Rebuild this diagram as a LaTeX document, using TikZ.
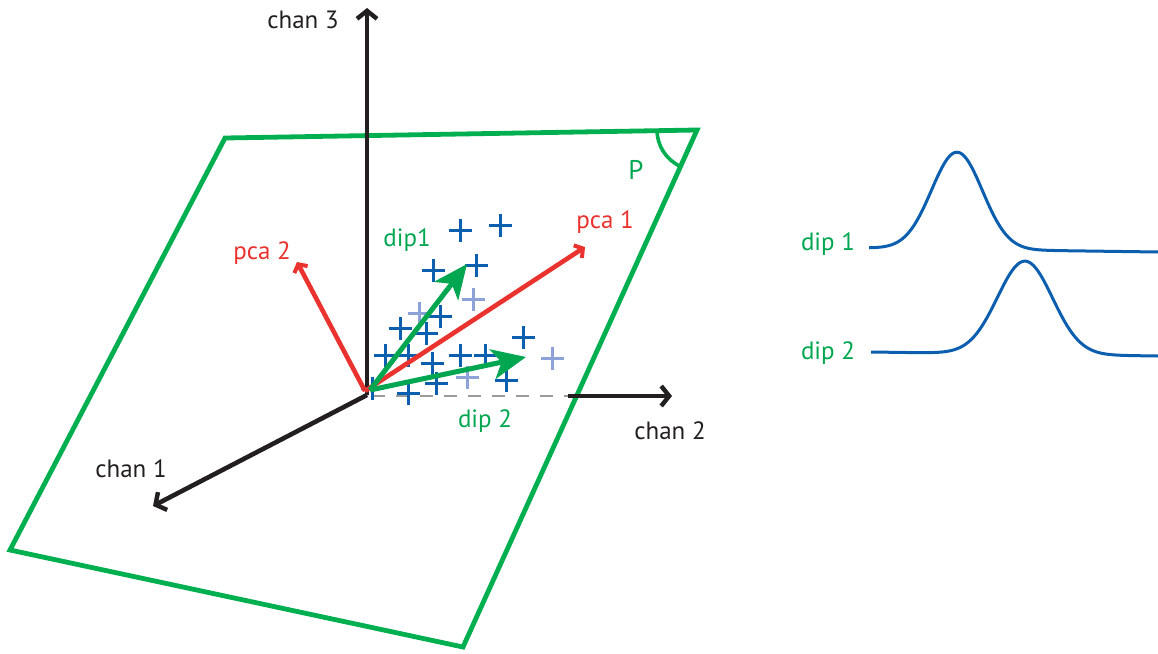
\documentclass[tikz,border=0pt]{standalone}
\usepackage{fontspec}
\setmainfont{PT Sans}
\usetikzlibrary{arrows.meta}
\definecolor{planegreen}{RGB}{0,176,80}
\definecolor{arrgreen}{RGB}{0,166,80}
\definecolor{pcared}{RGB}{234,50,46}
\definecolor{dblue}{RGB}{12,94,174}
\definecolor{lblue}{RGB}{140,162,216}
\definecolor{axblack}{RGB}{35,31,32}
\definecolor{dgray}{RGB}{155,155,155}
\tikzset{
  axis/.style={draw=axblack,line width=4.6pt,-{Straight Barb[length=8pt,width=20pt,line width=4.4pt]}},
  pcaarr/.style={draw=pcared,line width=4.6pt,-{Straight Barb[length=6pt,width=15pt,line width=4pt]}},
  diparr/.style={draw=arrgreen,line width=5pt,-{Stealth[length=34pt,width=30pt,inset=9pt]}},
  lab/.style={inner sep=0pt,font=\fontsize{25}{27}\selectfont,text=axblack},
  pcalab/.style={inner sep=0pt,font=\fontsize{25}{27}\selectfont,text=pcared},
  diplab/.style={inner sep=0pt,font=\fontsize{25}{27}\selectfont,text=arrgreen},
  wave/.style={draw=dblue,line width=3pt},
  pics/pdark/.style={code={\draw[dblue,line width=3pt] (-11.5,0)--(11.5,0) (0,-11.5)--(0,11.5);}},
  pics/plight/.style={code={\draw[lblue,line width=3pt] (-11.5,0)--(11.5,0) (0,-11.5)--(0,11.5);}}
}
\begin{document}
\begin{tikzpicture}[x=1pt,y=-1pt]
\useasboundingbox (0,0) rectangle (1158,653);
% plane
\coordinate (p1) at (225,138);
\coordinate (p2) at (697,130);
\coordinate (p3) at (463,647);
\coordinate (p4) at (10,550);
\draw[planegreen,line width=4.8pt,line join=miter] (p1) -- (p2) -- (p3) -- (p4) -- cycle;
\draw[planegreen,line width=3.6pt] (657,130) arc[start angle=180,end angle=114.4,radius=40];
\node[diplab,font=\fontsize{27}{29}\selectfont] (P) at (636,170) {P};
% axes
\coordinate (O) at (367,395);
\coordinate (c3) at (367,8);
\coordinate (c2s) at (568,396);
\coordinate (c2) at (672,396);
\coordinate (c1) at (153,506);
\draw[dgray,line width=2.8pt,dash pattern=on 13pt off 11pt] (372,396) -- (c2s);
\draw[axis] (O) -- (c3);
\draw[axis] (c2s) -- (c2);
\draw[axis] (O) -- (c1);
\node[lab] (l3) at (303,20) {chan 3};
\node[lab] (l2) at (670,431) {chan 2};
\node[lab] (l1) at (131,469) {chan 1};
% points
\foreach \p in {(460,230),(500,225),(433,270),(476,265),(440,316),(400,328),(426,333),(385,355),(408,355),(432,363),(460,355),(485,355),(523,337),(436,383),(506,380),(408,393),(372,388)}
  \pic at \p {pdark};
\foreach \p in {(473,299),(419,313),(552,358),(467,377)}
  \pic at \p {plight};
% pca arrows
\coordinate (o2) at (365,391);
\coordinate (pc1) at (585,247);
\coordinate (pc2) at (297,262);
\draw[pcaarr] (o2) -- (pc1);
\draw[pcaarr] (o2) -- (pc2);
\node[pcalab] (lp1) at (605,222) {pca 1};
\node[pcalab] (lp2) at (262,253) {pca 2};
% dipole arrows
\coordinate (o3) at (370,390);
\coordinate (d1) at (467,264);
\coordinate (d2) at (526,357);
\draw[diparr] (o3) -- (d1);
\draw[diparr] (o3) -- (d2);
\node[diplab] (ld1) at (407,240) {dip1};
\node[diplab] (ld2) at (485,421) {dip 2};
% waveforms
\node[diplab] (w1) at (828,244) {dip 1};
\node[diplab] (w2) at (828,353) {dip 2};
\draw[wave] plot[domain=869:1158,samples=160] (\x,{248+(\x-869)*4/289-97*exp(-((\x-957)/36)^2)});
\draw[wave] plot[domain=871:1158,samples=160] (\x,{352+(\x-871)*4/287-93*exp(-((\x-1025)/39)^2)});
\end{tikzpicture}
\end{document}
